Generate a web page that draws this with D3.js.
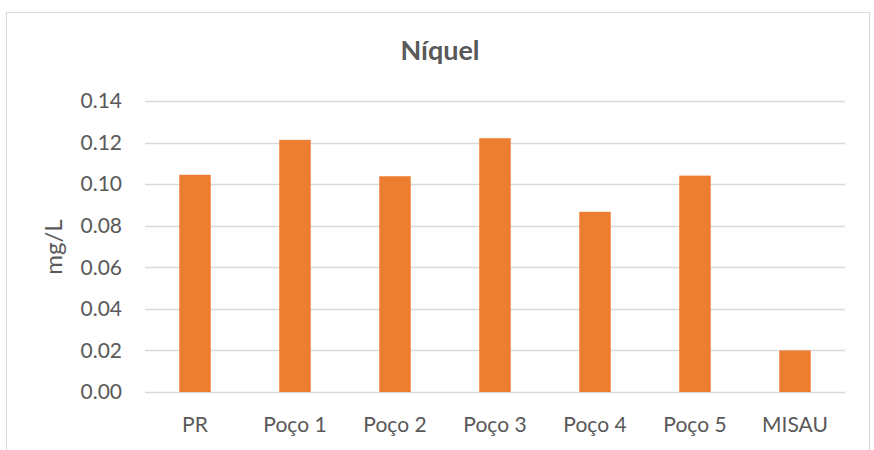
<!DOCTYPE html>
<html><head><meta charset="utf-8">
<script src="https://cdn.jsdelivr.net/npm/d3@7"></script>
<style>body{margin:0;background:#fff}svg{display:block}text{font-family:Lato,"Open Sans",sans-serif}</style>
</head><body>
<svg id="c" width="874" height="450"></svg>
<script>
const categories = ["PR","Poço 1","Poço 2","Poço 3","Poço 4","Poço 5","MISAU"];
const values = [0.1045,0.1213,0.1038,0.1221,0.0867,0.1041,0.0200];
const yTicks = [0,0.02,0.04,0.06,0.08,0.10,0.12,0.14];
const title = "Níquel";
const yTitle = "mg/L";

const svg = d3.select("#c");
svg.append("rect").attr("x",6.5).attr("y",12.5).attr("width",863).attr("height",460)
  .attr("fill","#fff").attr("stroke","#d9d9d9").attr("stroke-width",1);

const x=d3.scaleBand().domain(categories).range([145,845]).paddingInner(0.685).paddingOuter(0.3425);
const y=d3.scaleLinear().domain([0,0.14]).range([392,101]);

const g=svg.append("g");
g.selectAll("line.grid").data(yTicks).join("line").attr("class","grid")
  .attr("x1",145).attr("x2",845).attr("y1",d=>Math.round(y(d))+0.5).attr("y2",d=>Math.round(y(d))+0.5)
  .attr("stroke","#d9d9d9").attr("stroke-width",1.5);

g.selectAll("rect.bar").data(values).join("rect").attr("class","bar")
  .attr("x",(d,i)=>x(categories[i])).attr("width",x.bandwidth())
  .attr("y",d=>y(d)).attr("height",d=>y(0)-y(d)).attr("fill","#ED7D31");

const yAxis=d3.axisLeft(y).tickValues(yTicks).tickFormat(d3.format(".2f")).tickSize(0).tickPadding(0);
const ya=svg.append("g").attr("transform","translate(122,0)").call(yAxis);
ya.select(".domain").remove();
ya.selectAll("text").attr("fill","#595959").style("font-size","21px").style("font-family","Lato,sans-serif");

const xAxis=d3.axisBottom(x).tickSize(0).tickPadding(0);
const xa=svg.append("g").attr("transform","translate(0,432)").call(xAxis);
xa.select(".domain").remove();
xa.selectAll("text").attr("fill","#595959").attr("y",0).attr("dy",0).style("font-size","21px").style("font-family","Lato,sans-serif");

svg.append("text").attr("x",440).attr("y",60).attr("text-anchor","middle")
  .attr("fill","#595959").style("font-size","27px").style("font-weight","bold").text(title);
svg.append("text").attr("transform","translate(62,247) rotate(-90)").attr("text-anchor","middle")
  .attr("fill","#595959").style("font-size","24px").text(yTitle);
</script>
</body></html>
